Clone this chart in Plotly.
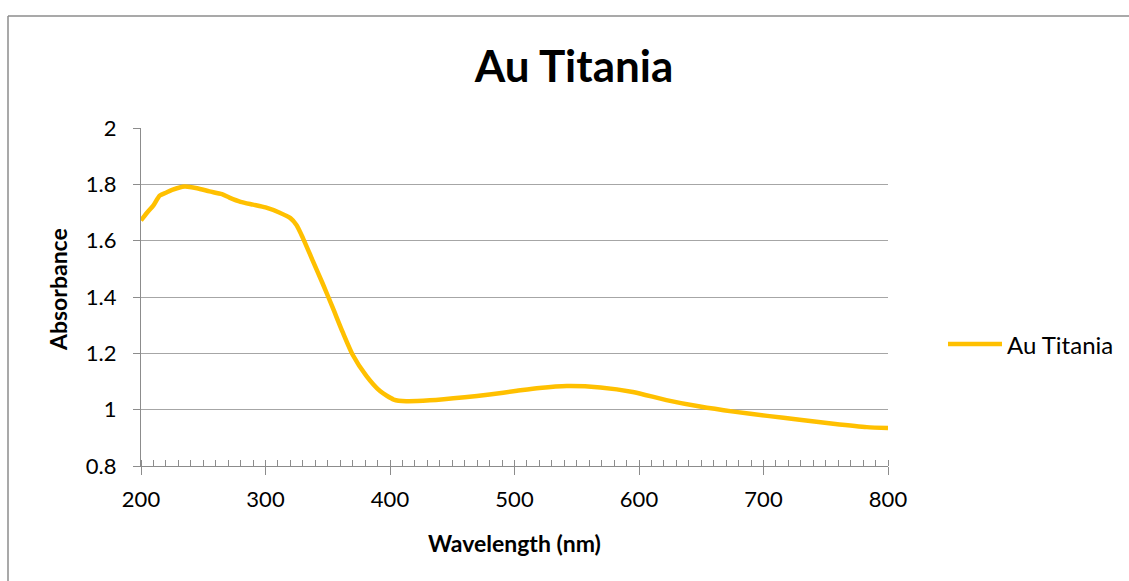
import plotly.graph_objects as go

# UV-Vis absorbance spectrum of the Au/titania sample
wavelength_nm = [200, 205, 210, 215, 220, 225, 235, 245, 255, 265, 271, 280, 290, 300,
                 311, 320, 325, 330, 338, 346, 354, 362, 370, 381, 392, 403, 413, 432,
                 460, 480, 502, 520, 542, 569, 595, 622, 649, 676, 703, 729, 756, 783, 800]
absorbance = [1.672, 1.700, 1.725, 1.760, 1.770, 1.780, 1.792, 1.786, 1.775, 1.765, 1.753,
              1.738, 1.728, 1.718, 1.700, 1.680, 1.655, 1.610, 1.528, 1.447, 1.362, 1.275,
              1.195, 1.120, 1.066, 1.036, 1.030, 1.033, 1.044, 1.054, 1.067, 1.077, 1.084,
              1.079, 1.063, 1.034, 1.011, 0.993, 0.978, 0.964, 0.950, 0.938, 0.935]
series_name = "Au Titania"
x_ticks = [200, 300, 400, 500, 600, 700, 800]
x_title = "Wavelength (nm)"
y_title = "Absorbance"

W, H = 1129, 581
L, R, T, B = 141, 241, 128, 115
PW, PH = W - L - R, H - T - B

LINE_COLOR = "#FFC000"
GRID = "#A6A6A6"
AXIS = "#8C8C8C"
FONT = "Lato"


def px_x(px):
    return (px - L) / PW


def px_y(py):
    return (H - B - py) / PH


fig = go.Figure()
fig.add_trace(go.Scatter(
    x=wavelength_nm, y=absorbance, mode="lines", name=series_name,
    line=dict(color=LINE_COLOR, width=4.5, shape="spline", smoothing=0.6),
    showlegend=False,
))

fig.update_xaxes(
    range=[200, 800], tickvals=x_ticks, showgrid=False, zeroline=False,
    showline=True, linecolor=AXIS, linewidth=1.3,
    ticks="outside", ticklen=8, tickcolor=AXIS, tickwidth=1.3, ticklabelstandoff=5,
    minor=dict(ticks="inside", ticklen=6, dtick=10, tick0=200, tickcolor=AXIS, tickwidth=1.2),
    tickfont=dict(family=FONT, size=22, color="#000000"),
)
fig.update_yaxes(
    range=[0.8, 2.0], dtick=0.2, tick0=0.8, showgrid=True, gridcolor=GRID, gridwidth=1.3,
    zeroline=False, showline=True, linecolor=AXIS, linewidth=1.3,
    ticks="outside", ticklen=7, tickcolor=AXIS, tickwidth=1.3, ticklabelstandoff=12,
    tickfont=dict(family=FONT, size=22, color="#000000"),
)

# axis titles
fig.add_annotation(xref="paper", yref="paper", x=px_x(514), y=px_y(543),
                   text=f"<b>{x_title}</b>", showarrow=False,
                   xanchor="center", yanchor="middle",
                   font=dict(family=FONT, size=23, color="#000000"))
fig.add_annotation(xref="paper", yref="paper", x=px_x(58), y=px_y(290),
                   text=f"<b>{y_title}</b>", showarrow=False, textangle=-90,
                   xanchor="center", yanchor="middle",
                   font=dict(family=FONT, size=23, color="#000000"))

# chart frame (top and left edges)
fig.add_shape(type="line", xref="paper", yref="paper",
              x0=px_x(8), x1=px_x(W + 20), y0=px_y(16), y1=px_y(16),
              line=dict(color="#8C8C8C", width=1.5))
fig.add_shape(type="line", xref="paper", yref="paper",
              x0=px_x(8), x1=px_x(8), y0=px_y(16), y1=px_y(H + 20),
              line=dict(color="#8C8C8C", width=1.5))

# legend entry
fig.add_shape(type="line", xref="paper", yref="paper",
              x0=px_x(948), x1=px_x(1002), y0=px_y(344), y1=px_y(344),
              line=dict(color=LINE_COLOR, width=4.5))
fig.add_annotation(xref="paper", yref="paper", x=px_x(1005), y=px_y(344),
                   text=series_name, showarrow=False, xanchor="left", yanchor="middle",
                   font=dict(family=FONT, size=24, color="#000000"))

fig.update_layout(
    width=W, height=H,
    margin=dict(l=L, r=R, t=T, b=B),
    paper_bgcolor="white", plot_bgcolor="white",
    title=dict(text=f"<b>{series_name}</b>", x=574 / W, xref="container", xanchor="center",
               y=1 - 67 / H, yref="container", yanchor="middle",
               font=dict(family=FONT, size=44, color="#000000")),
)

fig.write_html("out.html")
